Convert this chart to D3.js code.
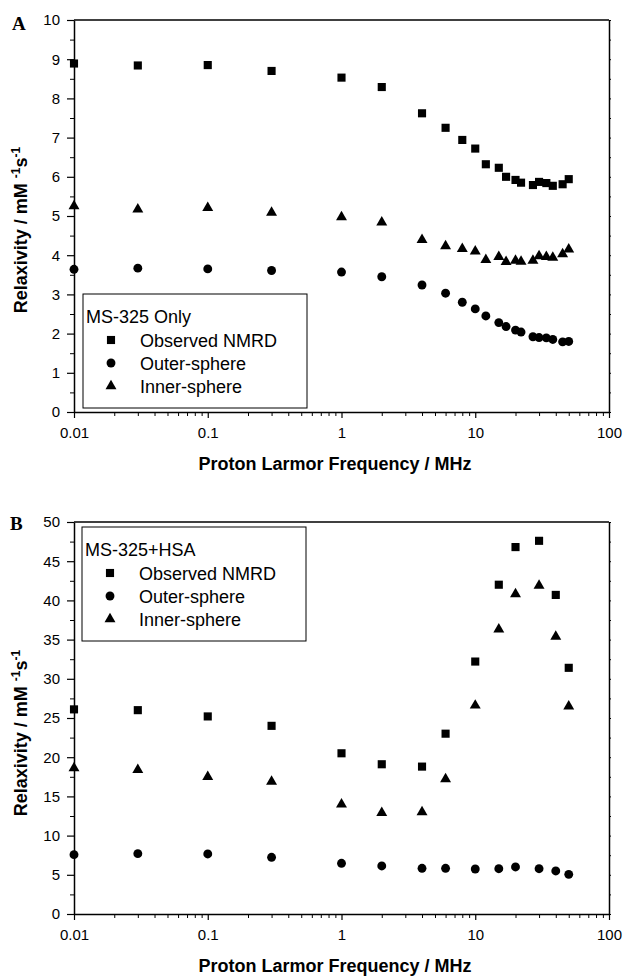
<!DOCTYPE html>
<html>
<head>
<meta charset="utf-8">
<script src="https://cdn.jsdelivr.net/npm/d3@7"></script>
<style>
  html, body { margin: 0; padding: 0; background: #fff; }
  svg { display: block; }
  text { font-family: "Liberation Sans", Arial, sans-serif; fill: #000; }
</style>
</head>
<body>
<svg id="chart" width="623" height="976"></svg>
<script>
// ---------- Data ----------
const freqA  = [0.01, 0.03, 0.1, 0.3, 1, 2, 4, 6, 8, 10, 12, 15, 17, 20, 22, 27, 30, 34, 38, 45, 50];
const obsA   = [8.89, 8.84, 8.85, 8.70, 8.53, 8.29, 7.62, 7.25, 6.94, 6.72, 6.32, 6.23, 6.00, 5.92, 5.85, 5.79, 5.87, 5.84, 5.77, 5.81, 5.94];
const outerA = [3.64, 3.67, 3.65, 3.61, 3.57, 3.45, 3.24, 3.03, 2.80, 2.63, 2.45, 2.28, 2.18, 2.09, 2.04, 1.92, 1.90, 1.89, 1.85, 1.79, 1.80];
const innerA = [5.25, 5.17, 5.21, 5.09, 4.97, 4.84, 4.39, 4.23, 4.16, 4.10, 3.88, 3.96, 3.83, 3.86, 3.84, 3.86, 3.98, 3.96, 3.94, 4.03, 4.15];

const freqB  = [0.01, 0.03, 0.1, 0.3, 1, 2, 4, 6, 10, 15, 20, 30, 40, 50];
const obsB   = [26.1, 26.0, 25.2, 24.0, 20.5, 19.1, 18.8, 23.0, 32.2, 42.0, 46.8, 47.6, 40.7, 31.4];
const outerB = [7.57, 7.70, 7.66, 7.23, 6.47, 6.13, 5.83, 5.83, 5.74, 5.78, 6.00, 5.78, 5.49, 5.06];
const innerB = [18.6, 18.4, 17.5, 16.9, 14.0, 12.9, 13.0, 17.2, 26.6, 36.3, 40.8, 41.9, 35.4, 26.5];

const xTickValues = [0.01, 0.1, 1, 10, 100];
const xTickLabels = ["0.01", "0.1", "1", "10", "100"];
const yTicksA = [0, 1, 2, 3, 4, 5, 6, 7, 8, 9, 10];
const yTicksB = [0, 5, 10, 15, 20, 25, 30, 35, 40, 45, 50];

const seriesNames = ["Observed NMRD", "Outer-sphere", "Inner-sphere"];
const legendTitles = ["MS-325 Only", "MS-325+HSA"];
const panelLetters = ["A", "B"];
const xTitle = "Proton Larmor Frequency / MHz";

// ---------- Drawing ----------
const svg = d3.select("#chart");
const symbolTypes = [d3.symbolSquare, d3.symbolCircle, d3.symbolTriangle];
const symbolSizes = [66, 62, 52];

function panel(cfg) {
  const x = d3.scaleLog().domain([0.01, 100]).range([74, 609]);
  const y = d3.scaleLinear().domain([0, cfg.yMax]).range([cfg.bottom, cfg.top]);
  const g = svg.append("g");

  // frame: top
  g.append("line").attr("x1", x.range()[0]).attr("x2", x.range()[1])
    .attr("y1", cfg.top).attr("y2", cfg.top).attr("stroke", "#000").attr("stroke-width", 1.5);

  // right axis minor ticks
  const rightAx = d3.axisRight(y)
    .tickValues(d3.range(0, cfg.yMax + 1e-9, cfg.minorStep))
    .tickSize(2).tickFormat("").tickSizeOuter(0);
  const ra = g.append("g").attr("transform", `translate(${x.range()[1]},0)`).call(rightAx);
  ra.select(".domain").attr("stroke-width", 1.5);

  // left axis minor
  const minorVals = d3.range(cfg.minorStep, cfg.yMax, cfg.majorStep);
  g.append("g").attr("transform", `translate(${x.range()[0]},0)`)
    .call(d3.axisLeft(y).tickValues(minorVals).tickSize(4).tickFormat("").tickSizeOuter(0))
    .select(".domain").remove();
  // left axis major
  const la = g.append("g").attr("transform", `translate(${x.range()[0]},0)`)
    .call(d3.axisLeft(y).tickValues(cfg.yTicks).tickSize(7).tickPadding(7).tickSizeOuter(0));
  la.select(".domain").attr("stroke-width", 1.5);
  la.selectAll("text").style("font-size", "15px");
  la.selectAll(".tick line").attr("stroke-width", 1.2);

  // bottom axis minor
  const minorX = x.ticks().filter(v => !xTickValues.some(d => Math.abs(d - v) / d < 1e-6));
  g.append("g").attr("transform", `translate(0,${cfg.bottom})`)
    .call(d3.axisBottom(x).tickValues(minorX).tickSize(4).tickFormat("").tickSizeOuter(0))
    .select(".domain").remove();
  const ba = g.append("g").attr("transform", `translate(0,${cfg.bottom})`)
    .call(d3.axisBottom(x).tickValues(xTickValues).tickSize(6).tickPadding(9)
      .tickFormat((d, i) => xTickLabels[i]).tickSizeOuter(0));
  ba.select(".domain").attr("stroke-width", 1.5);
  ba.selectAll("text").style("font-size", "15px");
  ba.selectAll(".tick line").attr("stroke-width", 1.2);

  // data
  const seriesVals = [cfg.obs, cfg.outer, cfg.inner];
  seriesVals.forEach((vals, si) => {
    const sym = d3.symbol().type(symbolTypes[si]).size(symbolSizes[si]);
    g.append("g").selectAll("path").data(cfg.freq.map((f, i) => [f, vals[i]]))
      .join("path")
      .attr("d", sym)
      .attr("transform", d => `translate(${x(d[0])},${y(d[1])})`)
      .attr("fill", "#000");
  });

  // legend
  const lg = g.append("g").attr("transform", `translate(${cfg.legX},${cfg.legY})`);
  lg.append("rect").attr("x", 0).attr("y", 0).attr("width", 224).attr("height", 114)
    .attr("fill", "#fff").attr("stroke", "#000").attr("stroke-width", 1);
  lg.append("text").attr("x", 3).attr("y", 28.5).style("font-size", "18px").text(cfg.legTitle);
  seriesNames.forEach((name, si) => {
    const cy = 46 + si * 23;
    lg.append("path").attr("d", d3.symbol().type(symbolTypes[si]).size(symbolSizes[si])())
      .attr("transform", `translate(28,${cy})`).attr("fill", "#000");
    lg.append("text").attr("x", 57).attr("y", cy + 6.5).style("font-size", "18px").text(name);
  });

  // axis titles
  g.append("text").attr("x", 335).attr("y", cfg.bottom + 58).attr("text-anchor", "middle")
    .style("font-size", "18px").style("font-weight", "bold").text(xTitle);

  const yt = g.append("text")
    .attr("transform", `translate(27,${cfg.yTitleY}) rotate(-90)`)
    .attr("text-anchor", "middle").style("font-size", "18px").style("font-weight", "bold");
  yt.append("tspan").text("Relaxivity / mM ");
  yt.append("tspan").attr("dy", -7).style("font-size", "12px").text("-1");
  yt.append("tspan").attr("dy", 7).text("s");
  yt.append("tspan").attr("dy", -7).style("font-size", "12px").text("-1");

  // panel letter
  g.append("text").attr("x", cfg.letterX).attr("y", cfg.letterY)
    .style("font-family", "'Liberation Serif', 'Times New Roman', serif")
    .style("font-weight", "bold").style("font-size", "19px").text(cfg.letter);
}

panel({
  top: 20, bottom: 412, yMax: 10, majorStep: 1, minorStep: 0.5, yTicks: yTicksA,
  freq: freqA, obs: obsA, outer: outerA, inner: innerA,
  legX: 83, legY: 294, legTitle: legendTitles[0], yTitleY: 230,
  letter: panelLetters[0], letterX: 12, letterY: 30
});
panel({
  top: 522, bottom: 914, yMax: 50, majorStep: 5, minorStep: 2.5, yTicks: yTicksB,
  freq: freqB, obs: obsB, outer: outerB, inner: innerB,
  legX: 82, legY: 527, legTitle: legendTitles[1], yTitleY: 733,
  letter: panelLetters[1], letterX: 10, letterY: 530
});
</script>
</body>
</html>
